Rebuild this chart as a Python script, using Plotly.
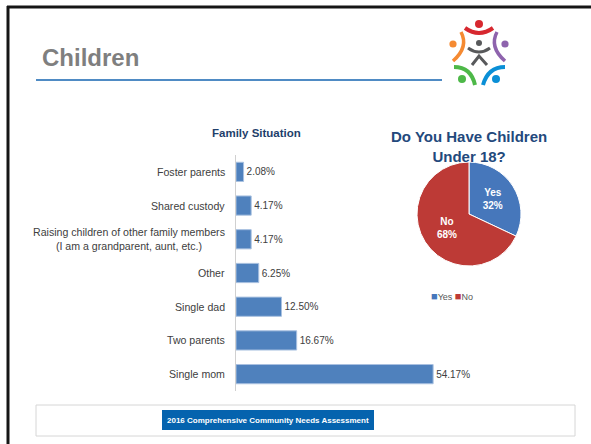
import plotly.graph_objects as go

# --- data ---------------------------------------------------------------
situations = [
    "Foster parents",
    "Shared custody",
    "Raising children of other family members<br>(I am a grandparent, aunt, etc.)",
    "Other",
    "Single dad",
    "Two parents",
    "Single mom",
]
situation_pct = [2.08, 4.17, 4.17, 6.25, 12.50, 16.67, 54.17]

answers = ["Yes", "No"]
answer_pct = [32, 68]
answer_colors = ["#4677bb", "#bd3a36"]

W, H = 591, 444
NAVY = "#1f3f6b"
BLUE = "#4f81bd"


def fx(px):
    return px / W


def fy(py):
    return 1 - py / H


fig = go.Figure()

# bar chart: family situation
fig.add_trace(
    go.Bar(
        x=situation_pct,
        y=situations,
        orientation="h",
        marker=dict(color=BLUE, line=dict(color="#a9c1e0", width=1)),
        width=0.57,
        text=[f"{v:.2f}%" for v in situation_pct],
        textposition="outside",
        textfont=dict(family="Liberation Sans", size=10, color="#404040"),
        cliponaxis=False,
        showlegend=False,
        hoverinfo="skip",
    )
)

# pie chart: children under 18
fig.add_trace(
    go.Pie(
        labels=answers,
        values=answer_pct,
        sort=False,
        direction="clockwise",
        rotation=0,
        marker=dict(colors=answer_colors, line=dict(color="white", width=1)),
        texttemplate="<b>%{label}<br>%{value}%</b>",
        textposition="inside",
        insidetextfont=dict(family="Liberation Sans", size=10, color="white"),
        domain=dict(x=[fx(416), fx(522)], y=[fy(266), fy(162)]),
        showlegend=False,
        hoverinfo="skip",
    )
)

# invisible full-page subplot used for slide decoration
fig.add_trace(
    go.Scatter(x=[], y=[], xaxis="x2", yaxis="y2", showlegend=False, hoverinfo="skip")
)

# category labels, centred lines like the original
annotations = []
for cat in situations:
    annotations.append(
        dict(
            x=0, y=cat, xref="x", yref="y",
            text=cat, showarrow=False, xanchor="right", xshift=-9,
            align="center",
            font=dict(family="Liberation Sans", size=10.6, color="#404040"),
        )
    )


def page_text(x, y, text, size, color, bold=False, anchor="center", family="Liberation Sans"):
    if bold:
        text = f"<b>{text}</b>"
    annotations.append(
        dict(
            x=x, y=y, xref="x2", yref="y2", text=text, showarrow=False,
            xanchor=anchor, yanchor="middle",
            font=dict(family=family, size=size, color=color),
        )
    )


page_text(40, 57, "Children", 24, "#7f7f7f", bold=True, anchor="left")
page_text(256, 133, "Family Situation", 11.5, NAVY, bold=True)
page_text(469, 146, "Do You Have Children<br>Under 18?", 15, "#23497c", bold=True)
page_text(268, 420, "2016 Comprehensive Community Needs Assessment", 8, "white", bold=True)

# compact pie legend
legend_txt = " ".join(
    f"<span style='color:{c};font-size:11px'>■</span>{a}" for a, c in zip(answers, answer_colors)
)
page_text(452, 296, legend_txt, 9, "#595959")

shapes = [
    # slide frame
    dict(type="line", x0=7, y0=7, x1=W, y1=7, line=dict(color="#161616", width=3)),
    dict(type="line", x0=8, y0=6, x1=8, y1=H, line=dict(color="#161616", width=3)),
    # title rule
    dict(type="line", x0=36, y0=80, x1=442, y1=80, line=dict(color="#1565b0", width=1.5)),
    # footer
    dict(type="rect", x0=36, y0=405, x1=575, y1=436, line=dict(color="#d6d6d6", width=1)),
    dict(type="rect", x0=162, y0=410, x1=374, y1=430, fillcolor="#0563ae", line=dict(width=0)),
]

# logo: dots and arcs
logo_dots = [
    (479, 24, 4, "#d7282f"),
    (453, 44, 3.6, "#f58a32"),
    (505, 44, 3.6, "#8e63ad"),
    (479, 43, 3, "#58595b"),
    (462, 79, 4, "#4db848"),
    (496, 79, 4, "#0a8fd6"),
]
for cx, cy, r, c in logo_dots:
    shapes.append(
        dict(type="circle", x0=cx - r, x1=cx + r, y0=cy - r, y1=cy + r,
             fillcolor=c, line=dict(width=0))
    )

logo_arcs = [
    ("M 465 28 Q 479 38 493 28", "#d7282f", 4),
    ("M 461 32 Q 469 47 453 61", "#f58a32", 3.5),
    ("M 497 32 Q 489 47 505 61", "#8e63ad", 3.5),
    ("M 468 48 Q 479 56 490 48", "#58595b", 3),
    ("M 472 65 L 479 56 L 487 65", "#58595b", 3),
    ("M 454 67 Q 471 67 475 85", "#4db848", 4),
    ("M 505 67 Q 488 67 483 85", "#0a8fd6", 4),
]
for path, c, w in logo_arcs:
    shapes.append(dict(type="path", path=path, line=dict(color=c, width=w)))

for s in shapes:
    s["xref"] = "x2"
    s["yref"] = "y2"

fig.update_layout(
    width=W,
    height=H,
    margin=dict(l=0, r=0, t=0, b=0),
    paper_bgcolor="white",
    plot_bgcolor="rgba(0,0,0,0)",
    font=dict(family="Liberation Sans", color="#404040"),
    showlegend=False,
    xaxis=dict(
        domain=[fx(236), fx(470)],
        range=[0, 64.3],
        visible=False,
        fixedrange=True,
    ),
    yaxis=dict(
        domain=[fy(391), fy(155)],
        categoryorder="array",
        categoryarray=situations,
        autorange="reversed",
        showticklabels=False,
        showline=True,
        linecolor="#d0d0d0",
        linewidth=1,
        showgrid=False,
        zeroline=False,
        fixedrange=True,
    ),
    xaxis2=dict(domain=[0, 1], range=[0, W], visible=False, anchor="y2", fixedrange=True),
    yaxis2=dict(domain=[0, 1], range=[H, 0], visible=False, anchor="x2", fixedrange=True),
    annotations=annotations,
    shapes=shapes,
)

fig.write_html(
    "out.html",
    config={"displayModeBar": False},
    post_script="document.body.style.margin='0';",
)
